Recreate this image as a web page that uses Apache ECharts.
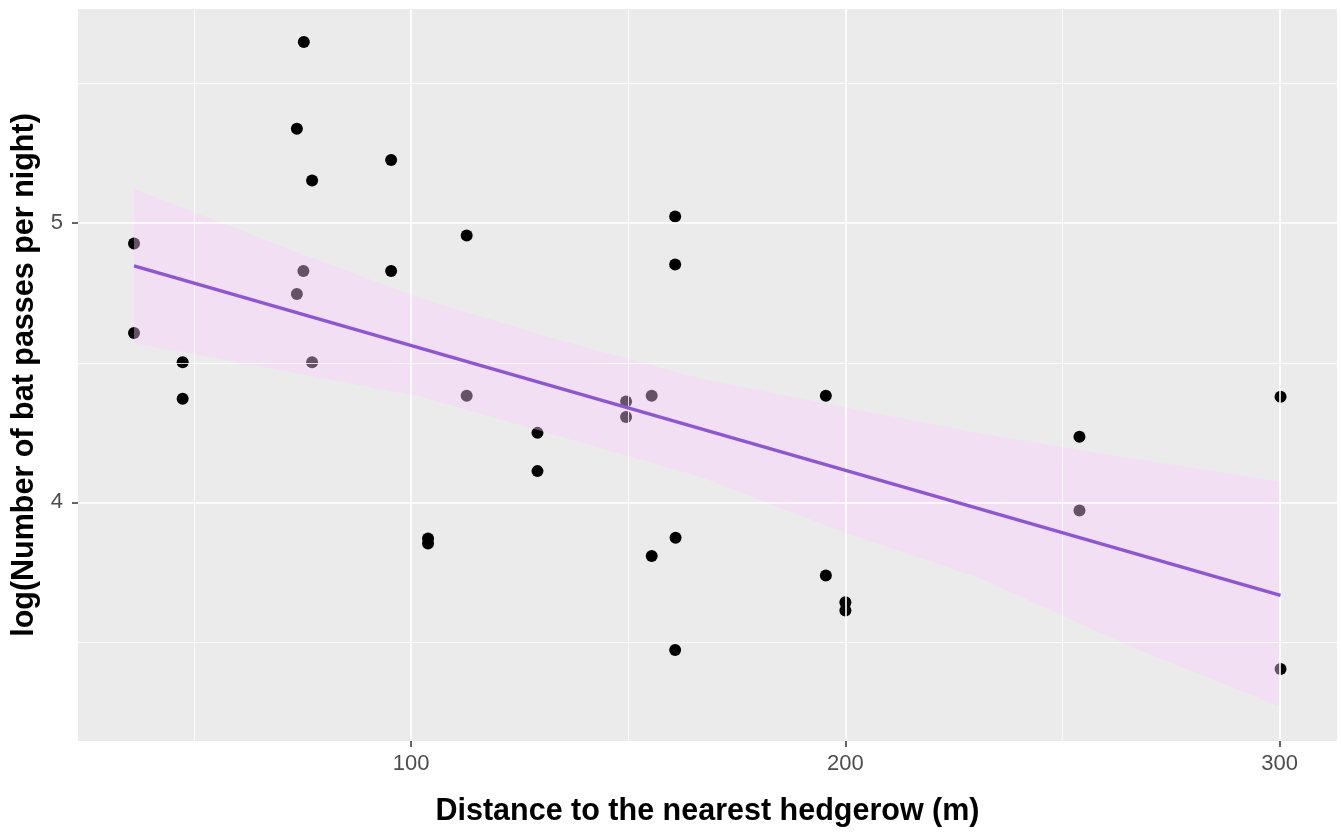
<!DOCTYPE html>
<html>
<head>
<meta charset="utf-8">
<script src="https://cdn.jsdelivr.net/npm/echarts@6/dist/echarts.min.js"></script>
<style>
  html, body { margin: 0; padding: 0; background: #ffffff; }
  #chart { width: 1341px; height: 835px; }
</style>
</head>
<body>
<div id="chart"></div>
<script>
// ---- Data ----
const distance = [36.2, 36.2, 47.4, 47.4, 75.3, 73.7, 77.2, 75.2, 73.7, 77.2,
                  95.4, 95.4, 103.9, 103.9, 112.8, 112.8, 129.1, 129.1, 149.5, 149.5,
                  155.4, 155.4, 160.8, 160.8, 160.9, 160.8, 195.5, 195.5, 200.0, 200.0,
                  253.9, 253.9, 300.2, 300.2];
const logPasses = [4.927, 4.607, 4.502, 4.371, 5.649, 5.338, 5.153, 4.829, 4.746, 4.502,
                   5.226, 4.829, 3.871, 3.853, 4.956, 4.382, 4.249, 4.112, 4.361, 4.306,
                   4.382, 3.808, 5.024, 4.852, 3.873, 3.471, 4.382, 3.738, 3.642, 3.613,
                   4.235, 3.971, 4.378, 3.403];

// fitted line (end points)
const fitX = [36.2, 300.2];
const fitY = [4.847, 3.667];

// confidence band edges
const bandX     = [36.2, 70, 102.1, 134, 166.6, 200, 231.1, 265, 300.2];
const bandUpper = [5.123, 4.918, 4.731, 4.582, 4.444, 4.340, 4.247, 4.160, 4.074];
const bandLower = [4.570, 4.473, 4.379, 4.238, 4.092, 3.890, 3.728, 3.488, 3.267];

// tick labels / grid
const xTicks = [100, 200, 300];
const xMinor = [50, 150, 250];
const yTicks = [4, 5];
const yMinor = [3.5, 4.5, 5.5];

const xTitle = 'Distance to the nearest hedgerow (m)';
const yTitle = 'log(Number of bat passes per night)';

// ---- Build chart ----
const chart = echarts.init(document.getElementById('chart'), null, { renderer: 'canvas' });

const points = distance.map((d, i) => [d, logPasses[i]]);
const fitData = fitX.map((d, i) => [d, fitY[i]]);

const gridLines = [];
xTicks.forEach(v => gridLines.push({ xAxis: v, lineStyle: { color: '#ffffff', width: 1.6, type: 'solid' } }));
xMinor.forEach(v => gridLines.push({ xAxis: v, lineStyle: { color: '#ffffff', width: 0.8, type: 'solid' } }));
yTicks.forEach(v => gridLines.push({ yAxis: v, lineStyle: { color: '#ffffff', width: 1.6, type: 'solid' } }));
yMinor.forEach(v => gridLines.push({ yAxis: v, lineStyle: { color: '#ffffff', width: 0.8, type: 'solid' } }));

const fontFam = '"Liberation Sans", Arial, Helvetica, sans-serif';

chart.setOption({
  animation: false,
  backgroundColor: '#ffffff',
  grid: {
    left: 78, right: 4, top: 9, bottom: 94,
    show: true, backgroundColor: '#EBEBEB', borderWidth: 0
  },
  xAxis: {
    type: 'value',
    min: 23.3, max: 313.2,
    name: xTitle,
    nameLocation: 'middle',
    nameGap: 55,
    nameTextStyle: { fontSize: 30.5, fontWeight: 'bold', color: '#000000', fontFamily: fontFam },
    axisLine: { show: false },
    axisTick: { show: true, length: 6, lineStyle: { color: '#333333', width: 1.5 }, customValues: xTicks },
    axisLabel: { show: true, customValues: xTicks, margin: 12, fontSize: 22, color: '#4D4D4D', fontFamily: fontFam },
    splitLine: { show: false }
  },
  yAxis: {
    type: 'value',
    min: 3.1455, max: 5.767,
    name: yTitle,
    nameLocation: 'middle',
    nameGap: 36,
    nameRotate: 90,
    nameTextStyle: { fontSize: 30.5, fontWeight: 'bold', color: '#000000', fontFamily: fontFam },
    axisLine: { show: false },
    axisTick: { show: true, length: 6, lineStyle: { color: '#333333', width: 1.5 }, customValues: yTicks },
    axisLabel: { show: true, customValues: yTicks, margin: 15, fontSize: 22, color: '#4D4D4D', fontFamily: fontFam },
    splitLine: { show: false }
  },
  series: [
    {
      name: 'grid',
      type: 'scatter',
      data: [],
      z: 1,
      silent: true,
      markLine: {
        silent: true,
        symbol: ['none', 'none'],
        label: { show: false },
        emphasis: { disabled: true },
        animation: false,
        data: gridLines
      }
    },
    {
      name: 'points',
      type: 'scatter',
      data: points,
      symbol: 'circle',
      symbolSize: 12,
      itemStyle: { color: '#000000', opacity: 1 },
      z: 3,
      silent: true
    },
    {
      name: 'band',
      type: 'custom',
      data: [[bandX[0], bandLower[0]]],
      z: 4,
      silent: true,
      renderItem: function (params, api) {
        const pts = [];
        for (let i = 0; i < bandX.length; i++) pts.push(api.coord([bandX[i], bandUpper[i]]));
        for (let i = bandX.length - 1; i >= 0; i--) pts.push(api.coord([bandX[i], bandLower[i]]));
        return {
          type: 'polygon',
          shape: { points: pts },
          style: { fill: 'rgba(255,205,255,0.4)', stroke: null }
        };
      }
    },
    {
      name: 'fit',
      type: 'line',
      data: fitData,
      showSymbol: false,
      symbol: 'none',
      lineStyle: { color: '#8E56D0', width: 3.5 },
      z: 5,
      silent: true
    }
  ]
});
</script>
</body>
</html>
